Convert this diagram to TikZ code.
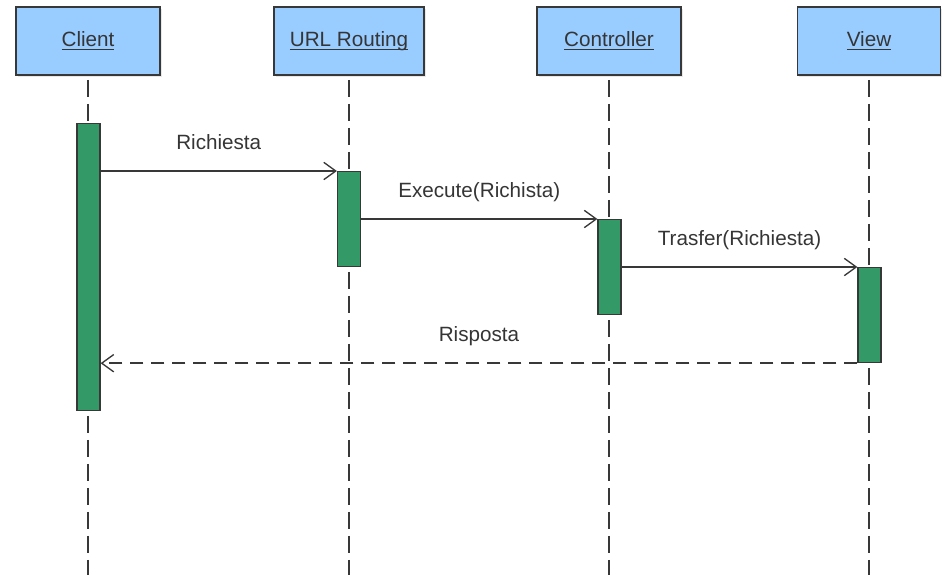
\documentclass[tikz,border=0pt]{standalone}
\usepackage{fontspec}
\setmainfont{Liberation Sans}
\usetikzlibrary{arrows.meta,shadows}

\definecolor{headfill}{HTML}{99CCFF}
\definecolor{edgegray}{HTML}{383838}
\definecolor{actgreen}{HTML}{339966}
\definecolor{txtgray}{HTML}{353535}

% underline at a fixed distance below the baseline, ignoring descenders
\newcommand\headline[1]{\setbox0\hbox{#1}%
  \rlap{\raisebox{-2.8pt}{\rule{\wd0}{0.9pt}}}\box0}

\tikzset{
  head/.style={draw=edgegray, line width=1.2pt, fill=headfill,
    minimum height=51pt, inner sep=0pt, font=\fontsize{15.5}{18}\selectfont,
    text height=11.5pt, text depth=3.5pt,
    text=txtgray, drop shadow={opacity=0.18, shadow xshift=1.2pt, shadow yshift=-1.2pt}},
  lifeline/.style={draw=edgegray, line width=1.3pt, dash pattern=on 12.75pt off 5.25pt, dash phase=-3pt},
  activation/.style={draw=edgegray, line width=0.9pt, fill=actgreen,
    minimum width=17.25pt, minimum height=71.25pt, inner sep=0pt, anchor=north},
  msg/.style={draw=edgegray, line width=1.1pt, -{Straight Barb[length=9pt,width=13pt,line width=1pt]}},
  reply/.style={msg, dash pattern=on 9.75pt off 6pt},
  msglabel/.style={pos=0.5, anchor=base, yshift=16.5pt, text=txtgray,
    font=\fontsize{15.5}{18}\selectfont}
}

\begin{document}
\begin{tikzpicture}[x=0.75pt,y=-0.75pt]
  \useasboundingbox (0,0) rectangle (943,575);

  % participant headers
  \node[head, minimum width=108pt]   (client) at (88,41)  {\headline{Client}};
  \node[head, minimum width=112.5pt] (url)    at (349,41) {\headline{URL Routing}};
  \node[head, minimum width=108pt]   (ctrl)   at (609,41) {\headline{Controller}};
  \node[head, minimum width=107.25pt] (view)  at (869,41) {\headline{View}};

  % lifeline ends
  \coordinate (clientEnd) at (88,575);
  \coordinate (urlEnd)    at (349,575);
  \coordinate (ctrlEnd)   at (609,575);
  \coordinate (viewEnd)   at (869,575);

  \draw[lifeline] (client.south) -- (clientEnd);
  \draw[lifeline] (url.south)    -- (urlEnd);
  \draw[lifeline] (ctrl.south)   -- (ctrlEnd);
  \draw[lifeline] (view.south)   -- (viewEnd);

  % activation bars
  \node[activation, minimum height=215.25pt] (clientAct) at (88.5,123) {};
  \node[activation] (urlAct)  at (349,171) {};
  \node[activation] (ctrlAct) at (609.5,219) {};
  \node[activation] (viewAct) at (869.5,267) {};

  % messages
  \draw[msg] (urlAct.north west -| clientAct.east) -- (urlAct.north west)
    node[msglabel] {Richiesta};
  \draw[msg] (ctrlAct.north west -| urlAct.east) -- (ctrlAct.north west)
    node[msglabel] {Execute(Richista)};
  \draw[msg] (viewAct.north west -| ctrlAct.east) -- (viewAct.north west)
    node[msglabel] {Trasfer(Richiesta)};
  \draw[reply] (viewAct.south west) -- (viewAct.south west -| clientAct.east)
    node[msglabel] {Risposta};
\end{tikzpicture}
\end{document}
